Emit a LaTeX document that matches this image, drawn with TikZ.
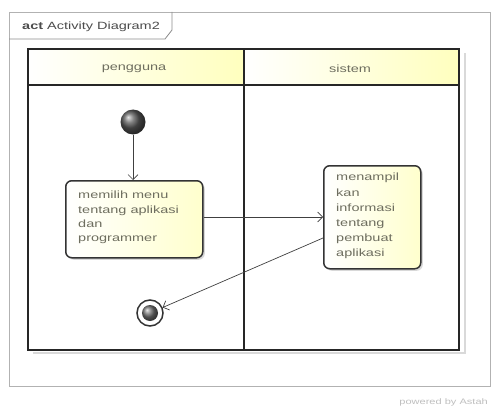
\documentclass[tikz,border=0pt]{standalone}
\usepackage{fontspec}
\setmainfont{Liberation Sans}[FakeStretch=1.38]
\usetikzlibrary{arrows.meta,shadows}
\definecolor{laneyellow}{RGB}{255,255,190}
\definecolor{actyellow}{RGB}{255,255,205}
\definecolor{txtgray}{RGB}{110,110,95}
\tikzset{
  lane/.style={draw=black!85, line width=1.6pt},
  lanehead/.style={left color=white, right color=laneyellow},
  action/.style={draw=black!80, line width=1.5pt, rounded corners=6pt,
    left color=white, right color=actyellow,
    drop shadow={shadow xshift=2pt, shadow yshift=-2pt, opacity=0.3, fill=black!50},
    anchor=north west, inner sep=0pt},
  acttext/.style={anchor=north west, align=left, inner sep=0pt, text=txtgray},
  flow/.style={draw=black!75, line width=0.7pt, -{Straight Barb[length=5pt,width=10pt]}},
  lanelabel/.style={font=\fontsize{10.5}{12}\selectfont, text=txtgray}
}
\begin{document}
\begin{tikzpicture}[x=1pt,y=-1pt]
\useasboundingbox (0,0) rectangle (492,409);
\fill[white] (0,0) rectangle (492,409);
% diagram frame and its name tab
\draw[black!30, line width=0.9pt] (9,12) rectangle (490,386);
\draw[black!45, line width=0.8pt] (9,39) -- (165,39) -- (172,30) -- (172,12);
\node[anchor=west, font=\fontsize{10.5}{12}\selectfont, text=black!70, inner sep=0pt] (frametitle) at (22,27)
  {\textbf{act} Activity Diagram2};
% swimlanes with their soft shadow
\draw[black!15, line width=1.2pt] (33,353) -- (465,353) -- (465,53);
\shade[lanehead] (28,49) rectangle (244,85);
\shade[lanehead] (244,49) rectangle (459,85);
\draw[lane] (28,49) rectangle (459,350);
\draw[lane] (28,85) -- (459,85);
\draw[lane] (244,49) -- (244,350);
\node[lanelabel] (lane1) at (134,69) {pengguna};
\node[lanelabel] (lane2) at (350,69) {sistem};
% initial node
\shade[ball color=black!65] (133,122) circle (12.5);
\node[circle, minimum size=25pt, inner sep=0pt] (start) at (133,122) {};
% actions
\node[action, minimum width=137pt, minimum height=77pt] (act1) at (65,180) {};
\node[acttext, font=\fontsize{10.5}{14.2}\selectfont] (act1txt) at (78,191)
  {memilih menu\\tentang aplikasi\\dan\\programmer};
\node[action, minimum width=97pt, minimum height=103pt] (act2) at (323,165) {};
\node[acttext, font=\fontsize{10.5}{15.2}\selectfont] (act2txt) at (336,173)
  {menampil\\kan\\informasi\\tentang\\pembuat\\aplikasi};
% final node
\node[circle, draw=black!80, line width=1.5pt, fill=white, minimum size=26pt, inner sep=0pt] (final) at (150,313) {};
\shade[ball color=black!55] (150,313) circle (8);
% control flows
\draw[flow] (start) -- (act1.north -| start);
\draw[flow] (act1.east |- 0,217) -- (act2.west |- 0,217);
\draw[flow] (act2.west |- 0,238) -- (final);
% credit line
\node[anchor=east, font=\fontsize{8}{9}\selectfont, text=black!25, inner sep=0pt] (credit) at (488,402)
  {powered by Astah};
\end{tikzpicture}
\end{document}
